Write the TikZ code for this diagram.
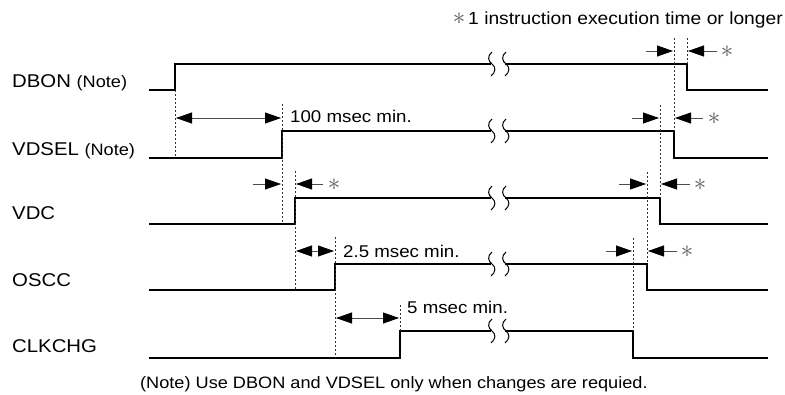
\documentclass[tikz,border=0pt]{standalone}
\usepackage{fontspec}
\setmainfont[FakeStretch=1.1]{Liberation Sans}
\usetikzlibrary{arrows.meta}
\tikzset{
  wave/.style={line width=1.1pt, line join=miter},
  guide/.style={line width=0.8pt, dash pattern=on 2pt off 2pt, black!80},
  ahead/.tip={Triangle[length=16pt,width=11pt,color=black,fill=black]},
  dim/.style={line width=0.8pt, black!70, {ahead}-{ahead}},
  tip/.style={line width=0.8pt, black!70, -{ahead}},
  sig/.style={anchor=base west, inner sep=0pt, font=\fontsize{18.5}{18.5}\selectfont},
  tlab/.style={anchor=base west, inner sep=0pt, font=\fontsize{17}{17}\selectfont},
  star/.style={inner sep=0pt, text=black!65, font=\fontsize{25}{25}\selectfont},
  brk/.style={line width=1pt}
}
\newcommand{\brkmark}[2]{%
  \draw[brk] (#1+1,#2-12) .. controls (#1-4,#2-8) and (#1-3,#2-3) .. (#1+1,#2)
     .. controls (#1+5,#2+3) and (#1+5,#2+8) .. (#1,#2+12);}
\begin{document}
\begin{tikzpicture}[x=1pt,y=-1pt]
\useasboundingbox (0,0) rectangle (785,394);
% title
\node[anchor=base east, inner sep=0pt, font=\fontsize{17.5}{17.5}\selectfont] (title) at (783,24) {{\color{black!65}\fontsize{23}{23}\selectfont$\ast$}\,1 instruction execution time or longer};
% signal labels
\node[sig] (lDBON) at (12,87) {DBON {\fontsize{16.5}{16.5}\selectfont(Note)}};
\node[sig] (lVDSEL) at (12,155) {VDSEL {\fontsize{16.5}{16.5}\selectfont(Note)}};
\node[sig] (lVDC) at (12,219) {VDC};
\node[sig] (lOSCC) at (12,286) {OSCC};
\node[sig] (lCLK) at (12,352) {CLKCHG};
% waveforms
\draw[wave] (149,90) -- (175,90) -- (175,64) -- (491,64);
\draw[wave] (505,64) -- (687,64) -- (687,90) -- (768,90);
\draw[wave] (149,158) -- (282,158) -- (282,131) -- (491,131);
\draw[wave] (505,131) -- (674,131) -- (674,158) -- (768,158);
\draw[wave] (149,224) -- (295,224) -- (295,198) -- (491,198);
\draw[wave] (505,198) -- (660,198) -- (660,224) -- (768,224);
\draw[wave] (149,290) -- (335,290) -- (335,264) -- (491,264);
\draw[wave] (505,264) -- (647,264) -- (647,290) -- (768,290);
\draw[wave] (149,358) -- (400,358) -- (400,331) -- (491,331);
\draw[wave] (505,331) -- (633,331) -- (633,358) -- (768,358);
% break marks
\foreach \yy in {64,131,198,264,331}{\brkmark{491}{\yy}\brkmark{505}{\yy}}
% guide lines
\coordinate (g1t) at (175,90);  \coordinate (g1b) at (175,158);
\coordinate (g2t) at (282,104); \coordinate (g2b) at (282,224);
\coordinate (g3t) at (295,171); \coordinate (g3b) at (295,290);
\coordinate (g4t) at (335,237); \coordinate (g4b) at (335,358);
\coordinate (g5t) at (400,305); \coordinate (g5b) at (400,331);
\coordinate (h1t) at (687,38);  \coordinate (h1b) at (687,64);
\coordinate (h2t) at (674,38);  \coordinate (h2b) at (674,131);
\coordinate (h3t) at (660,105); \coordinate (h3b) at (660,198);
\coordinate (h4t) at (647,172); \coordinate (h4b) at (647,264);
\coordinate (h5t) at (633,238); \coordinate (h5b) at (633,331);
\foreach \g in {g1,g2,g3,g4,g5,h1,h2,h3,h4,h5}{\draw[guide] (\g t) -- (\g b);}
% left dimensions
\coordinate (a1) at (176,118); \coordinate (a2) at (281,118);
\draw[dim] (a1) -- (a2);
\node[tlab] (t100) at (290,122) {100 msec min.};
\coordinate (b0) at (253,184); \coordinate (b1) at (281,184);
\coordinate (b2) at (296,184); \coordinate (b3) at (323,184);
\draw[tip] (b0) -- (b1); \draw[tip] (b3) -- (b2);
\node[star] (s0) at (334,185) {$\ast$};
\coordinate (c1) at (296,251); \coordinate (c2) at (334,251);
\draw[dim] (c1) -- (c2);
\node[tlab] (t25) at (343,257) {2.5 msec min.};
\coordinate (d1) at (336,318); \coordinate (d2) at (399,318);
\draw[dim] (d1) -- (d2);
\node[tlab] (t5) at (407,313) {5 msec min.};
% right dimensions
\coordinate (r10) at (646,51); \coordinate (r11) at (673,51);
\coordinate (r12) at (688,51); \coordinate (r13) at (717,51);
\draw[tip] (r10) -- (r11); \draw[tip] (r13) -- (r12);
\node[star] (s1) at (727,52) {$\ast$};
\coordinate (r20) at (632,118); \coordinate (r21) at (659,118);
\coordinate (r22) at (675,118); \coordinate (r23) at (703,118);
\draw[tip] (r20) -- (r21); \draw[tip] (r23) -- (r22);
\node[star] (s2) at (714,119) {$\ast$};
\coordinate (r30) at (619,184); \coordinate (r31) at (646,184);
\coordinate (r32) at (661,184); \coordinate (r33) at (690,184);
\draw[tip] (r30) -- (r31); \draw[tip] (r33) -- (r32);
\node[star] (s3) at (700,185) {$\ast$};
\coordinate (r40) at (606,251); \coordinate (r41) at (632,251);
\coordinate (r42) at (648,251); \coordinate (r43) at (677,251);
\draw[tip] (r40) -- (r41); \draw[tip] (r43) -- (r42);
\node[star] (s4) at (687,252) {$\ast$};
% footnote
\node[anchor=base west, inner sep=0pt, font=\fontsize{16.5}{16.5}\selectfont] (note) at (140,388) {(Note) Use DBON and VDSEL only when changes are requied.};
\end{tikzpicture}
\end{document}
